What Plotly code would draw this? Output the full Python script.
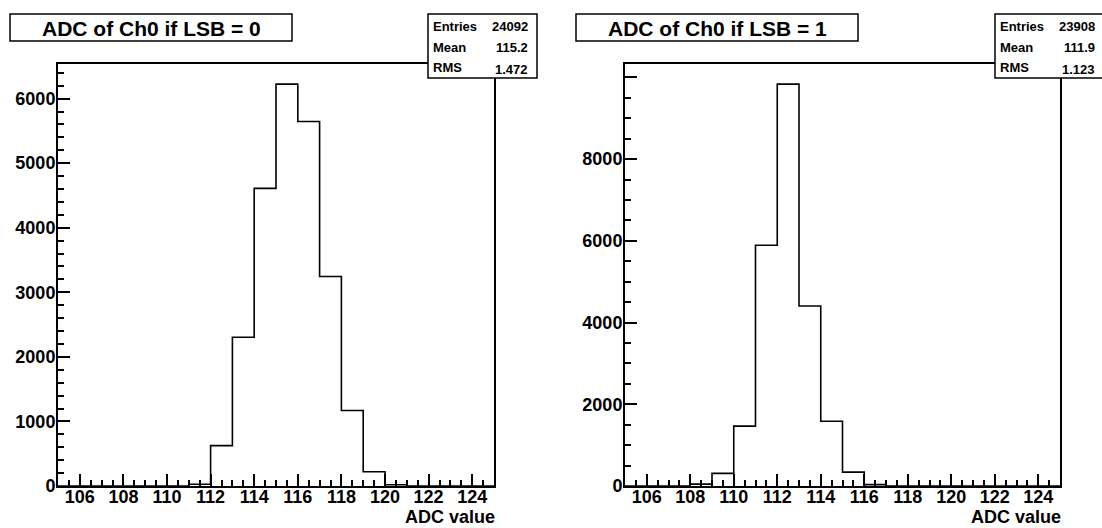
import plotly.graph_objects as go

# ADC bin edges (unit-width bins from 105 to 125)
bin_edges = [105, 106, 107, 108, 109, 110, 111, 112, 113, 114, 115,
             116, 117, 118, 119, 120, 121, 122, 123, 124, 125]

# Counts per bin, Ch0 with LSB = 0
counts_lsb0 = [0, 0, 0, 0, 0, 0, 28, 625, 2305, 4610, 6225,
               5645, 3245, 1170, 220, 19, 0, 0, 0, 0]

# Counts per bin, Ch0 with LSB = 1
counts_lsb1 = [0, 0, 0, 45, 310, 1465, 5890, 9835, 4405, 1585, 340,
               33, 0, 0, 0, 0, 0, 0, 0, 0]

titles = ["ADC of Ch0 if LSB = 0", "ADC of Ch0 if LSB = 1"]
stats_lsb0 = [("Entries", "24092"), ("Mean", "115.2"), ("RMS", "1.472")]
stats_lsb1 = [("Entries", "23908"), ("Mean", "111.9"), ("RMS", "1.123")]
x_label = "ADC value"

W, H = 1102, 528
H_PAGE = 518  # vertical extent used for placing elements in paper units
FONT = "Liberation Sans"


def px(x):
    return x / W


def py(y):
    return 1 - y / H_PAGE


fig = go.Figure()

# Histograms drawn as step outlines
for i, counts in enumerate([counts_lsb0, counts_lsb1]):
    suffix = "" if i == 0 else str(i + 1)
    fig.add_trace(go.Scatter(
        x=bin_edges, y=counts + [counts[-1]],
        mode="lines", line=dict(shape="hv", color="black", width=1.6),
        xaxis="x" + suffix, yaxis="y" + suffix, hoverinfo="skip",
    ))

# Frame geometry (pixels)
frames = [dict(l=58, r=494, t=64, b=486), dict(l=625, r=1060, t=64, b=486)]

axis_common = dict(
    showline=True, mirror=True, linecolor="black", linewidth=2,
    showgrid=False, zeroline=False, ticks="inside", tickcolor="black",
    tickwidth=1.5, tickfont=dict(family=FONT, size=18, color="black", weight="bold"),
)

layout = dict(
    width=W, height=H, margin=dict(l=0, r=0, t=0, b=0),
    paper_bgcolor="white", plot_bgcolor="white", showlegend=False,
)

y_settings = [
    dict(major=1000, minor=200, hide_top=False),
    dict(major=2000, minor=500, hide_top=True),
]

shapes = []
annotations = []
for i, (fr, counts, stats, title) in enumerate(
        zip(frames, [counts_lsb0, counts_lsb1], [stats_lsb0, stats_lsb1], titles)):
    suffix = "" if i == 0 else str(i + 1)
    ymax = max(counts) * 1.05
    ys = y_settings[i]
    major_vals = list(range(0, int(ymax) + 1, ys["major"]))
    major_text = [str(v) for v in major_vals]
    if ys["hide_top"]:
        major_text[-1] = ""
    minor_vals = [v for v in range(0, int(ymax) + 1, ys["minor"]) if v % ys["major"]]

    layout["xaxis" + suffix] = dict(
        axis_common, domain=[px(fr["l"]), px(fr["r"])], range=[105, 125],
        anchor="y" + suffix, tick0=106, dtick=2, ticklen=12,
        ticklabelstandoff=-7,
        minor=dict(ticks="inside", tick0=105, dtick=0.5, ticklen=6,
                   tickcolor="black", tickwidth=1.5),
    )
    layout["yaxis" + suffix] = dict(
        axis_common, domain=[py(fr["b"]), py(fr["t"])], range=[0, ymax],
        anchor="x" + suffix, tickmode="array", tickvals=major_vals,
        ticktext=major_text, ticklen=12, ticklabelstandoff=-3,
        minor=dict(ticks="inside", tickmode="array", tickvals=minor_vals,
                   ticklen=6, tickcolor="black", tickwidth=1.5),
    )

    # Title box
    tb = [(10, 292), (576, 858)][i]
    shapes.append(dict(type="rect", xref="paper", yref="paper",
                       x0=px(tb[0]), x1=px(tb[1]), y0=py(41), y1=py(14),
                       line=dict(color="black", width=1.5), fillcolor="white"))
    annotations.append(dict(
        x=px((tb[0] + tb[1]) / 2), y=py(28), xref="paper", yref="paper",
        text=title, showarrow=False, xanchor="center", yanchor="middle",
        font=dict(family=FONT, size=21, color="black", weight="bold")))

    # Statistics box
    sb = [(428, 537), (995, 1104)][i]
    shapes.append(dict(type="rect", xref="paper", yref="paper",
                       x0=px(sb[0]), x1=px(sb[1]), y0=py(78), y1=py(14),
                       line=dict(color="black", width=1.5), fillcolor="white"))
    for k, (name, val) in enumerate(stats):
        yc = 26 + 21 * k
        annotations.append(dict(
            x=px(sb[0] + 3), y=py(yc), xref="paper", yref="paper",
            text=name, showarrow=False, xanchor="left", yanchor="middle",
            font=dict(family=FONT, size=13, color="black", weight="bold")))
        annotations.append(dict(
            x=px(sb[1] - 7), y=py(yc + (2 if k == 2 else 0)), xref="paper",
            yref="paper", text=val, showarrow=False, xanchor="right",
            yanchor="middle",
            font=dict(family=FONT, size=13, color="black", weight="bold")))

    # Axis title
    annotations.append(dict(
        x=px(fr["r"] + 2), y=py(517), xref="paper", yref="paper", text=x_label,
        showarrow=False, xanchor="right", yanchor="middle", borderpad=0,
        font=dict(family=FONT, size=18, color="black", weight="bold")))

layout["shapes"] = shapes
layout["annotations"] = annotations
fig.update_layout(**layout)

fig.write_html("out.html")
